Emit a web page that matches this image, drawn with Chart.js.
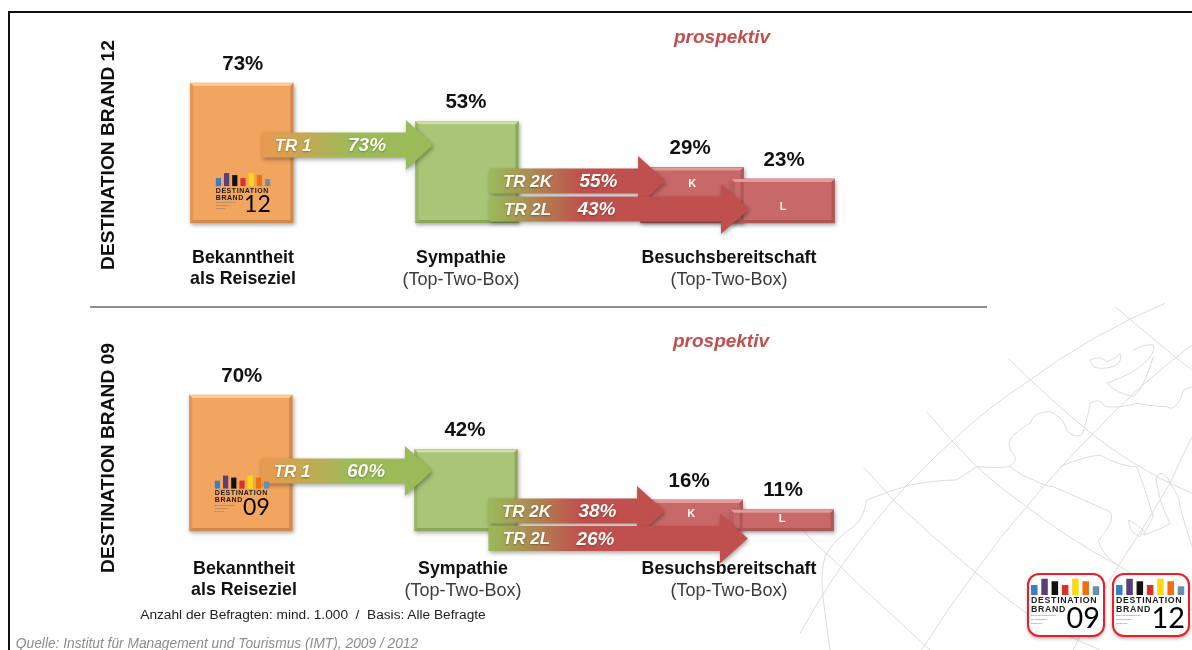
<!DOCTYPE html>
<html lang="de">
<head>
<meta charset="utf-8">
<title>Destination Brand</title>
<script src="https://cdn.jsdelivr.net/npm/chart.js@4"></script>
<style>
    html, body { margin: 0; padding: 0; background: #fff; }
    body { width: 1192px; height: 650px; overflow: hidden; position: relative; font-family: "Liberation Sans", Arial, sans-serif; }
    canvas { position: absolute; left: 0; top: 0; }
    #page { position: absolute; inset: 0; filter: blur(0.5px); }
    #frame { position: absolute; left: 8px; top: 11px; right: -4px; bottom: -4px; border: 2px solid #111; }
    #divider { position: absolute; left: 90px; top: 306px; width: 897px; height: 2px; background: #8f8f8f; }
    #map { position: absolute; left: 800px; top: 290px; width: 392px; height: 360px; }
    .txt { position: absolute; white-space: pre; transform: translate(-50%, -50%); color: #111; font-size: 17.8px; line-height: 1; }
    .b { font-weight: bold; }
    .sub { color: #3c3c3c; font-size: 18px; }
    .prosp { color: #c0504d; font-weight: bold; font-style: italic; font-size: 19px; }
    .side { font-weight: bold; font-size: 19.2px; transform: translate(-50%, -50%) rotate(-90deg); }
</style>
</head>
<body>
<div id="page">
    <div id="frame"></div>
    <svg id="map" viewBox="0 0 1176 1080" fill="none" stroke="#dcdcdc" stroke-width="3">
        <path d="M1095 40 Q 880 130 690 270 Q 560 355 460 450 Q 360 540 280 630 Q 120 810 0 1030"/>
        <path d="M1176 165 Q 1010 290 880 430 Q 770 540 680 650 Q 600 740 530 840 Q 440 960 365 1080"/>
        <path d="M1176 440 Q 1140 510 1110 580 Q 1040 700 960 820 Q 880 950 820 1080"/>
        <path d="M945 50 Q 1040 130 1130 205 L 1176 240"/>
        <path d="M625 205 Q 750 330 880 435 Q 990 520 1110 580 L 1176 610"/>
        <path d="M380 365 Q 450 450 530 530 Q 600 595 680 650 Q 810 750 960 830 L 1176 960"/>
        <path d="M190 530 Q 235 580 280 630 Q 400 745 530 850 Q 620 930 720 1000 L 900 1080"/>
        <path d="M0 710 Q 40 760 90 800 Q 170 880 260 960 L 390 1080"/>
        <path d="M75 800 Q 60 850 70 930 L 90 1080"/>
        <path d="M75 800 Q 100 750 160 710 Q 190 690 200 630 Q 250 610 330 585 Q 410 570 470 570 Q 500 550 530 530 Q 590 535 630 530 Q 670 560 700 570 Q 740 590 760 590 Q 850 630 930 665 Q 950 690 895 750 Q 900 790 960 830"/>
        <path d="M630 530 Q 650 510 645 500 Q 620 470 630 450 Q 650 420 690 400 Q 700 365 750 365 Q 790 380 800 420 Q 820 445 845 435 Q 860 400 870 340 Q 900 320 915 350 Q 960 355 1010 340 Q 1070 350 1100 350 Q 1130 370 1150 300 L 1176 290"/>
        <path d="M780 530 Q 850 500 900 495 Q 960 530 1010 530 Q 1040 610 1060 680 L 1030 735 Q 1080 720 1110 700 Q 1080 640 1075 600 Q 1060 560 1080 550 Q 1100 550 1110 580 Q 1140 620 1140 650 Q 1160 720 1176 770"/>
        <path d="M870 210 Q 900 195 920 215 Q 950 205 960 190 Q 970 215 940 230 Q 900 240 880 230 Z"/>
        <path d="M1000 180 Q 1040 160 1060 165 Q 1070 190 1020 230 Q 1000 250 920 280 Q 950 310 1000 320 Q 1030 300 1060 200"/>
        <path d="M985 690 Q 1000 695 1030 720 L 1020 740 Q 990 730 985 690 Z"/>
    </svg>
    <div id="divider"></div>
    <canvas id="chart12" width="1192" height="650"></canvas>
    <canvas id="chart09" width="1192" height="650"></canvas>
    <div id="labels"></div>
</div>

<script>
// Values
const barNames = ['Bekanntheit', 'Sympathie', 'K', 'L'];
const barSlots = [0, 1, 2, 2.404];
const values12 = [73, 53, 29, 23];
const values09 = [70, 42, 16, 11];

const transferNames = ['TR 1', 'TR 2K', 'TR 2L'];
const transfer12 = [73, 55, 43];
const transfer09 = [60, 38, 26];

// Arrows on the chart scales (x = bar slot, y = percent)
const arrowFrom = [0.09, 1.1, 1.1];
const arrowNeck = [0.729, 1.76, 2.128];
const arrowTip = [0.849, 1.882, 2.252];
const arrowLevel12 = [40.7, 21.9, 7.3];
const arrowLevel09 = [30.9, 10.3, -3.9];

const tagLevel12 = [null, null, 20.3, 8.3];
const tagLevel09 = [null, null, 8.8, 6.2];

const barColors = ['#f1a55f', '#a9c577', '#c86868', '#c86868'];
const bevelLight = ['#fbcb8c', '#cbe09f', '#e39a9a', '#e39a9a'];
const bevelDark = ['#d08a4e', '#8ba75c', '#ad5757', '#ad5757'];
const logoColors = ['#3a7fc4', '#5b3f77', '#111111', '#d8322a', '#fbd90f', '#ef6f12', '#6f8cab'];
const logoHeights = [8, 13, 11, 8, 13, 11, 7];

function drawLogo(ctx, x, y, w, number) {
    const k = w / 55;
    ctx.save();
    logoColors.forEach((c, i) => {
        const bw = 5.2 * k;
        const h = logoHeights[i] * k;
        ctx.fillStyle = c;
        ctx.fillRect(x + i * 8.2 * k, y + 12 * k - h, bw, h);
    });
    ctx.fillStyle = '#1c1c1c';
    ctx.textAlign = 'left';
    ctx.textBaseline = 'alphabetic';
    ctx.font = `bold ${7 * k}px "Liberation Sans"`;
    ctx.letterSpacing = (0.55 * k) + 'px';
    ctx.fillText('DESTINATION', x, y + 18.5 * k);
    ctx.fillText('BRAND', x, y + 25.5 * k);
    ctx.letterSpacing = '0px';
    ctx.font = `${2 * k}px "Liberation Sans"`;
    ctx.fillStyle = '#666';
    ctx.fillText('Das Markenbarometer', x, y + 29 * k);
    ctx.fillText('der deutschen', x, y + 32 * k);
    ctx.fillText('Reiseziele', x, y + 35 * k);
    ctx.fillStyle = '#000';
    ctx.textAlign = 'right';
    ctx.font = `${23 * k}px Lato, "Liberation Sans"`;
    ctx.fillText(number, x + w, y + 38 * k);
    ctx.restore();
}

function drawArrow(ctx, scales, i, level, startColor, endColor, midX) {
    const cy = scales.y.getPixelForValue(level);
    const x0 = scales.x.getPixelForValue(arrowFrom[i]);
    const neck = scales.x.getPixelForValue(arrowNeck[i]);
    const tip = scales.x.getPixelForValue(arrowTip[i]);
    const grad = ctx.createLinearGradient(x0, 0, x0 + midX, 0);
    grad.addColorStop(0, startColor);
    grad.addColorStop(1, endColor);
    ctx.save();
    ctx.shadowColor = 'rgba(0,0,0,0.35)';
    ctx.shadowBlur = 4;
    ctx.shadowOffsetX = 1;
    ctx.shadowOffsetY = 2;
    ctx.fillStyle = grad;
    ctx.beginPath();
    ctx.moveTo(x0, cy - 12.5);
    ctx.lineTo(neck, cy - 12.5);
    ctx.lineTo(neck, cy - 25);
    ctx.lineTo(tip, cy);
    ctx.lineTo(neck, cy + 25);
    ctx.lineTo(neck, cy + 12.5);
    ctx.lineTo(x0, cy + 12.5);
    ctx.closePath();
    ctx.fill();
    ctx.restore();
    return { x0, cy };
}

function panelPlugin(cfg) {
    return {
        id: 'panel' + cfg.number,
        beforeDatasetsDraw(chart) {
            const ctx = chart.ctx;
            ctx.save();
            ctx.shadowColor = 'rgba(0,0,0,0.35)';
            ctx.shadowBlur = 4;
            ctx.shadowOffsetX = 1;
            ctx.shadowOffsetY = 2;
        },
        afterDatasetsDraw(chart) {
            const ctx = chart.ctx;
            ctx.restore();
            const meta = chart.getDatasetMeta(0);

            // bevel on the bars
            meta.data.forEach((bar, i) => {
                const l = bar.x - bar.width / 2;
                const r = bar.x + bar.width / 2;
                const t = bar.y;
                const b = bar.base;
                const d = 3;
                const strip = (pts, color) => {
                    ctx.fillStyle = color;
                    ctx.beginPath();
                    pts.forEach((p, n) => n ? ctx.lineTo(p[0], p[1]) : ctx.moveTo(p[0], p[1]));
                    ctx.closePath();
                    ctx.fill();
                };
                strip([[l, t], [r, t], [r - d, t + d], [l + d, t + d]], bevelLight[i]);
                strip([[r, t], [r, b], [r - d, b - d], [r - d, t + d]], bevelDark[i]);
                strip([[l, b], [r, b], [r - d, b - d], [l + d, b - d]], bevelDark[i]);
                ctx.globalAlpha = 0.5;
                strip([[l, t], [l, b], [l + d, b - d], [l + d, t + d]], bevelDark[i]);
                ctx.globalAlpha = 1;
            });

            // the transfer arrows
            const scales = { x: chart.scales.x, y: chart.scales.y };
            const spots = [
                drawArrow(ctx, scales, 0, cfg.arrowLevel[0], '#e9994f', '#9bbb59', 92),
                drawArrow(ctx, scales, 1, cfg.arrowLevel[1], '#9bbb59', '#c0504d', 92),
                drawArrow(ctx, scales, 2, cfg.arrowLevel[2], '#9bbb59', '#c0504d', 92)
            ];

            drawLogo(ctx, meta.data[0].x - 26, scales.y.getPixelForValue(cfg.logoLevel), 55, cfg.number);

            // text on top of the arrows
            ctx.save();
            ctx.textAlign = 'center';
            ctx.textBaseline = 'middle';
            ctx.fillStyle = '#fbfbf2';
            ctx.shadowColor = 'rgba(0,0,0,0.3)';
            ctx.shadowBlur = 2;
            ctx.shadowOffsetY = 1;
            const nameOffset = [31, 38, 38];
            const valueOffset = [105, 109, 107];
            spots.forEach((s, i) => {
                ctx.font = 'italic bold 17px "Liberation Sans"';
                ctx.fillText(transferNames[i], s.x0 + nameOffset[i], s.cy + 1);
                ctx.font = 'italic bold 19px "Liberation Sans"';
                ctx.fillText(cfg.transfer[i] + '%', s.x0 + valueOffset[i], s.cy + 1);
            });
            ctx.shadowColor = 'transparent';
            ctx.font = 'bold 11px "Liberation Sans"';
            [2, 3].forEach(i => {
                ctx.fillText(barNames[i], meta.data[i].x, scales.y.getPixelForValue(cfg.tagLevel[i]));
            });

            // values above the bars
            ctx.fillStyle = '#111';
            ctx.font = 'bold 20.5px "Liberation Sans"';
            const valueNudge = [1, -1, -2, 1];
            meta.data.forEach((bar, i) => {
                ctx.fillText(cfg.values[i] + '%', bar.x + valueNudge[i], bar.y - 19);
            });
            ctx.restore();

            if (cfg.badges) {
                drawBadge(ctx, 1027, 573, '09');
                drawBadge(ctx, 1112, 573, '12');
            }
        }
    };
}

function drawBadge(ctx, x, y, number) {
    ctx.save();
    ctx.shadowColor = 'rgba(0,0,0,0.4)';
    ctx.shadowBlur = 4;
    ctx.shadowOffsetY = 2;
    ctx.fillStyle = '#fff';
    ctx.strokeStyle = '#ee1c25';
    ctx.lineWidth = 2;
    ctx.beginPath();
    ctx.roundRect(x + 1, y + 1, 76, 62, 11);
    ctx.fill();
    ctx.shadowColor = 'transparent';
    ctx.stroke();
    ctx.restore();
    drawLogo(ctx, x + 4, y + 7, 69, number);
}

function makePanel(id, cfg) {
    const area = cfg.area;
    return new Chart(document.getElementById(id), {
        type: 'bar',
        data: {
            datasets: [{
                data: barSlots.map((s, i) => ({ x: s, y: cfg.values[i] })),
                backgroundColor: barColors,
                barThickness: 103,
                clip: false
            }]
        },
        options: {
            responsive: false,
            animation: false,
            events: [],
            layout: { padding: { left: area.left, right: 1192 - area.right, top: area.bottom - cfg.pxPerUnit * 100, bottom: 650 - area.bottom } },
            plugins: { legend: { display: false }, tooltip: { enabled: false } },
            scales: {
                x: { type: 'linear', offset: false, min: -0.23, max: 2.63, display: false },
                y: { min: 0, max: 100, display: false }
            }
        },
        plugins: [panelPlugin(cfg)]
    });
}

// fixed text on the slide
function addText(text, x, y, cls, extra) {
    const el = document.createElement('div');
    el.className = 'txt ' + cls;
    el.textContent = text;
    el.style.left = x + 'px';
    el.style.top = y + 'px';
    if (extra) el.style.cssText += extra;
    document.getElementById('labels').appendChild(el);
}

function addCaptions(y1, y2, x1, x2, x3) {
    addText('Bekanntheit', x1, y1, 'b');
    addText('als Reiseziel', x1, y2, 'b');
    addText('Sympathie', x2, y1, 'b');
    addText('(Top-Two-Box)', x2, y2, 'sub');
    addText('Besuchsbereitschaft', x3, y1, 'b');
    addText('(Top-Two-Box)', x3, y2, 'sub');
}

document.addEventListener('DOMContentLoaded', () => {
    makePanel('chart12', {
        number: '12', values: values12, transfer: transfer12,
        arrowLevel: arrowLevel12, tagLevel: tagLevel12, logoLevel: 25.5,
        area: { left: 190, right: 834, bottom: 223 }, pxPerUnit: 1.918
    });
    makePanel('chart09', {
        number: '09', values: values09, transfer: transfer09,
        arrowLevel: arrowLevel09, tagLevel: tagLevel09, logoLevel: 28,
        area: { left: 189, right: 833, bottom: 531 }, pxPerUnit: 1.943, badges: true
    });

    addText('DESTINATION BRAND 12', 108, 155, 'side');
    addText('DESTINATION BRAND 09', 108, 458, 'side');
    addText('prospektiv', 722, 36, 'prosp');
    addText('prospektiv', 721, 340, 'prosp');
    addCaptions(258, 279, 243, 461, 729);
    addCaptions(569, 590, 244, 463, 729);
    addText('Anzahl der Befragten: mind. 1.000  /  Basis: Alle Befragte', 313, 615, '', 'font-size:13.7px;color:#222;');
    addText('Quelle: Institut für Management und Tourismus (IMT), 2009 / 2012', 217, 644, '', 'font-size:13.75px;font-style:italic;color:#8c8c8c;');
});
</script>
</body>
</html>
